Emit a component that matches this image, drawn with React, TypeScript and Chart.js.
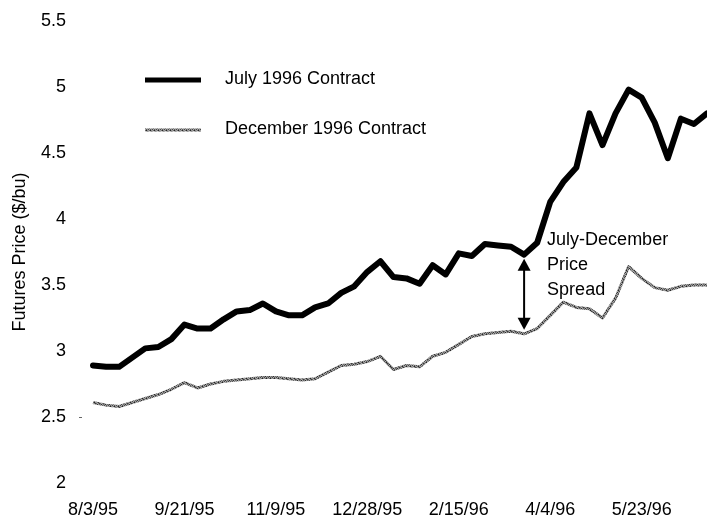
import React, { useEffect, useRef } from "react";
import { Chart, registerables } from "chart.js";

Chart.register(...registerables);

const weeks = [
  "8/3/95", "8/10/95", "8/17/95", "8/24/95", "8/31/95", "9/7/95", "9/14/95",
  "9/21/95", "9/28/95", "10/5/95", "10/12/95", "10/19/95", "10/26/95", "11/2/95",
  "11/9/95", "11/16/95", "11/23/95", "11/30/95", "12/7/95", "12/14/95", "12/21/95",
  "12/28/95", "1/4/96", "1/11/96", "1/18/96", "1/25/96", "2/1/96", "2/8/96",
  "2/15/96", "2/22/96", "2/29/96", "3/7/96", "3/14/96", "3/21/96", "3/28/96",
  "4/4/96", "4/11/96", "4/18/96", "4/25/96", "5/2/96", "5/9/96", "5/16/96",
  "5/23/96", "5/30/96", "6/6/96", "6/13/96", "6/20/96", "6/27/96",
];

const tickLabels = ["8/3/95", "9/21/95", "11/9/95", "12/28/95", "2/15/96", "4/4/96", "5/23/96"];

const july1996 = [
  2.89, 2.88, 2.88, 2.95, 3.02, 3.03, 3.09, 3.2, 3.17, 3.17,
  3.24, 3.3, 3.31, 3.36, 3.3, 3.27, 3.27, 3.33, 3.36, 3.44,
  3.49, 3.6, 3.68, 3.56, 3.55, 3.51, 3.65, 3.58, 3.74, 3.72,
  3.81, 3.8, 3.79, 3.73, 3.82, 4.13, 4.28, 4.39, 4.8, 4.56,
  4.8, 4.98, 4.92, 4.73, 4.46, 4.76, 4.72, 4.8,
];

const dec1996 = [
  2.61, 2.59, 2.58, 2.61, 2.64, 2.67, 2.71, 2.76, 2.72, 2.75,
  2.77, 2.78, 2.79, 2.8, 2.8, 2.79, 2.78, 2.79, 2.84, 2.89,
  2.9, 2.92, 2.96, 2.86, 2.89, 2.88, 2.96, 2.99, 3.05, 3.11,
  3.13, 3.14, 3.15, 3.13, 3.17, 3.27, 3.37, 3.33, 3.32, 3.25,
  3.4, 3.64, 3.55, 3.48, 3.46, 3.49, 3.5, 3.5,
];

const seriesNames = ["July 1996 Contract", "December 1996 Contract"];
const spreadLabel = ["July-December", "Price", "Spread"];
const spreadWeek = "3/21/96";
const dashTick = 2.5;

const FONT = "'Liberation Sans', Arial, Helvetica, sans-serif";

function makeSpecklePattern(): CanvasPattern | string {
  const c = document.createElement("canvas");
  c.width = 4;
  c.height = 4;
  const g = c.getContext("2d");
  if (!g) return "#7a7a7a";
  const shades = [
    "#8a8a8a", "#2e2e2e", "#a4a4a4", "#6a6a6a",
    "#4a4a4a", "#acacac", "#5a5a5a", "#9c9c9c",
    "#a0a0a0", "#707070", "#262626", "#8c8c8c",
    "#686868", "#b0b0b0", "#7c7c7c", "#3c3c3c",
  ];
  for (let y = 0; y < 4; y++) {
    for (let x = 0; x < 4; x++) {
      g.fillStyle = shades[y * 4 + x];
      g.fillRect(x, y, 1, 1);
    }
  }
  const p = g.createPattern(c, "repeat");
  return p || "#7a7a7a";
}

export default function App() {
  const ref = useRef<HTMLCanvasElement | null>(null);

  useEffect(() => {
    if (!ref.current) return;
    const speckle = makeSpecklePattern();

    const overlay = {
      id: "overlay",
      afterDatasetsDraw(chart: any) {
        const ctx = chart.ctx as CanvasRenderingContext2D;
        const xs = chart.scales.x;
        const ys = chart.scales.y;
        ctx.save();
        // legend
        const lx0 = 145, lx1 = 201, tx = 225;
        const rows = [80, 130];
        ctx.lineCap = "butt";
        ctx.strokeStyle = "#000";
        ctx.lineWidth = 5;
        ctx.beginPath();
        ctx.moveTo(lx0, rows[0]);
        ctx.lineTo(lx1, rows[0]);
        ctx.stroke();
        ctx.strokeStyle = speckle as any;
        ctx.lineWidth = 3;
        ctx.beginPath();
        ctx.moveTo(lx0, rows[1]);
        ctx.lineTo(lx1, rows[1]);
        ctx.stroke();
        ctx.fillStyle = "#000";
        ctx.font = `18px ${FONT}`;
        ctx.textAlign = "left";
        ctx.textBaseline = "middle";
        ctx.fillText(seriesNames[0], tx, rows[0] - 1);
        ctx.fillText(seriesNames[1], tx, rows[1] - 1);

        // small dash beside the 2.5 tick
        const dy = Math.round(ys.getPixelForValue(dashTick)) + 0.5;
        ctx.strokeStyle = "#666";
        ctx.lineWidth = 1;
        ctx.beginPath();
        ctx.moveTo(xs.left - 14, dy);
        ctx.lineTo(xs.left - 11, dy);
        ctx.stroke();

        // spread arrow
        const idx = weeks.indexOf(spreadWeek);
        const ax = xs.getPixelForValue(idx);
        const yTop = ys.getPixelForValue(july1996[idx]) + 4;
        const yBot = ys.getPixelForValue(dec1996[idx]) - 4;
        const headL = 12, headW = 6.5;
        ctx.strokeStyle = "#000";
        ctx.lineWidth = 2;
        ctx.beginPath();
        ctx.moveTo(ax, yTop + headL - 1);
        ctx.lineTo(ax, yBot - headL + 1);
        ctx.stroke();
        ctx.beginPath();
        ctx.moveTo(ax, yTop);
        ctx.lineTo(ax - headW, yTop + headL);
        ctx.lineTo(ax + headW, yTop + headL);
        ctx.closePath();
        ctx.fill();
        ctx.beginPath();
        ctx.moveTo(ax, yBot);
        ctx.lineTo(ax - headW, yBot - headL);
        ctx.lineTo(ax + headW, yBot - headL);
        ctx.closePath();
        ctx.fill();

        const textX = ax + 23;
        spreadLabel.forEach((t, i) => {
          ctx.fillText(t, textX, yTop - 19 + i * 25);
        });
        ctx.restore();
      },
    };

    const chart = new Chart(ref.current, {
      type: "line",
      data: {
        labels: weeks,
        datasets: [
          {
            label: seriesNames[0],
            data: july1996,
            borderColor: "#000",
            borderWidth: 6,
            pointRadius: 0,
            tension: 0,
            borderJoinStyle: "round",
            borderCapStyle: "round",
          },
          {
            label: seriesNames[1],
            data: dec1996,
            borderColor: speckle as any,
            borderWidth: 3,
            pointRadius: 0,
            tension: 0,
            borderJoinStyle: "round",
          },
        ],
      },
      options: {
        responsive: false,
        animation: false,
        devicePixelRatio: 1,
        layout: { padding: { top: 21, right: 0, left: 0, bottom: 0 } },
        plugins: {
          legend: { display: false },
          tooltip: { enabled: false },
        },
        scales: {
          x: {
            type: "category",
            offset: false,
            grid: { display: false, drawTicks: false },
            border: { display: false },
            ticks: {
              autoSkip: false,
              maxRotation: 0,
              minRotation: 0,
              padding: 16,
              color: "#000",
              font: { family: FONT, size: 18 },
              callback: (_v: any, i: number) => (tickLabels.includes(weeks[i]) ? weeks[i] : ""),
            },
            afterFit: (s: any) => {
              s.height = 42;
              s.paddingLeft = 0;
              s.paddingRight = 0;
            },
          },
          y: {
            min: 2,
            max: 5.5,
            grid: { display: false, drawTicks: false },
            border: { display: false },
            ticks: {
              stepSize: 0.5,
              padding: 27,
              color: "#000",
              font: { family: FONT, size: 18 },
              callback: (v: any) => String(Math.round(Number(v) * 10) / 10),
            },
            title: {
              display: true,
              text: "Futures Price ($/bu)",
              color: "#000",
              font: { family: FONT, size: 18 },
              padding: { top: 9, bottom: 0 },
            },
            afterFit: (s: any) => {
              s.width = 93;
              s.paddingTop = 0;
              s.paddingBottom = 0;
            },
          },
        },
      },
      plugins: [overlay],
    });
    return () => chart.destroy();
  }, []);

  return (
    <div style={{ position: "fixed", left: 0, top: 0, width: 707, height: 525, background: "#fff" }}>
      <canvas ref={ref} width={707} height={525} style={{ display: "block" }} />
    </div>
  );
}
